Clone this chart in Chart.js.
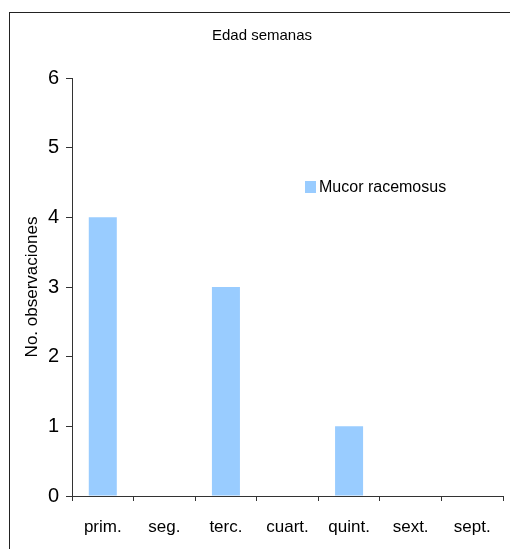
<!DOCTYPE html>
<html>
<head>
<meta charset="utf-8">
<script src="https://cdn.jsdelivr.net/npm/chart.js@4"></script>
<style>
  html, body { margin: 0; padding: 0; background: #fff; }
  #wrap { position: relative; width: 510px; height: 549px; }
  #frame {
    position: absolute; left: 9px; top: 12px; right: 0; bottom: 0;
    border-left: 1px solid #222; border-top: 1px solid #222;
    pointer-events: none;
  }
</style>
</head>
<body>
<div id="wrap">
  <canvas id="myChart"></canvas>
  <div id="frame"></div>
</div>
<script>
const categories = ["prim.", "seg.", "terc.", "cuart.", "quint.", "sext.", "sept."];
const mucorValues = [4, 0, 3, 0, 1, 0, 0];
const yTicks = [0, 1, 2, 3, 4, 5, 6];

const fontFamily = '"Liberation Sans", Arial, sans-serif';
const barColor = "rgb(153, 204, 255)";
const lineColor = "#333";

// legend sits inside the plot, drawn by hand
const insideLegend = {
  id: "insideLegend",
  afterDraw(chart) {
    const ctx = chart.ctx;
    const ds = chart.data.datasets[0];
    ctx.save();
    ctx.fillStyle = ds.backgroundColor;
    ctx.fillRect(305, 181, 11, 12);
    ctx.fillStyle = "#000";
    ctx.font = "16px " + fontFamily;
    ctx.textBaseline = "middle";
    ctx.textAlign = "left";
    ctx.fillText(ds.label, 319, 187.5);
    ctx.restore();
  },
};

const data = {
  labels: categories,
  datasets: [
    {
      label: "Mucor racemosus",
      data: mucorValues,
      backgroundColor: barColor,
      borderWidth: 0,
      barPercentage: 0.455,
      categoryPercentage: 1.0,
    },
  ],
};

const config = {
  type: "bar",
  data: data,
  options: {
    responsive: true,
    maintainAspectRatio: false,
    animation: false,
    layout: {
      padding: { left: 21, right: 7, top: 0, bottom: 0 },
    },
    scales: {
      x: {
        grid: {
          display: true,
          drawOnChartArea: false,
          drawTicks: true,
          tickLength: 5,
          color: lineColor,
        },
        border: { display: true, color: lineColor, width: 1 },
        ticks: {
          color: "#000",
          padding: 16,
          font: { family: fontFamily, size: 17 },
        },
        afterFit(scale) {
          scale.height = 53;
        },
      },
      y: {
        min: 0,
        max: 6,
        afterBuildTicks(scale) {
          scale.ticks = yTicks.map((v) => ({ value: v }));
        },
        grid: {
          display: true,
          drawOnChartArea: false,
          drawTicks: true,
          tickLength: 6,
          color: lineColor,
        },
        border: { display: true, color: lineColor, width: 1 },
        ticks: {
          color: "#000",
          padding: 7,
          font: { family: fontFamily, size: 20 },
        },
        title: {
          display: true,
          text: "No. observaciones",
          color: "#000",
          padding: { top: 1, bottom: 0 },
          font: { family: fontFamily, size: 17 },
        },
        afterFit(scale) {
          scale.width = 51;
        },
      },
    },
    plugins: {
      title: {
        display: true,
        text: "Edad semanas",
        color: "#000",
        font: { family: fontFamily, size: 15, weight: "normal" },
        padding: { top: 27, bottom: 33 },
      },
      legend: { display: false },
      tooltip: { enabled: false },
    },
  },
  plugins: [insideLegend],
};

const myChart = new Chart(document.getElementById("myChart"), config);
</script>
</body>
</html>
